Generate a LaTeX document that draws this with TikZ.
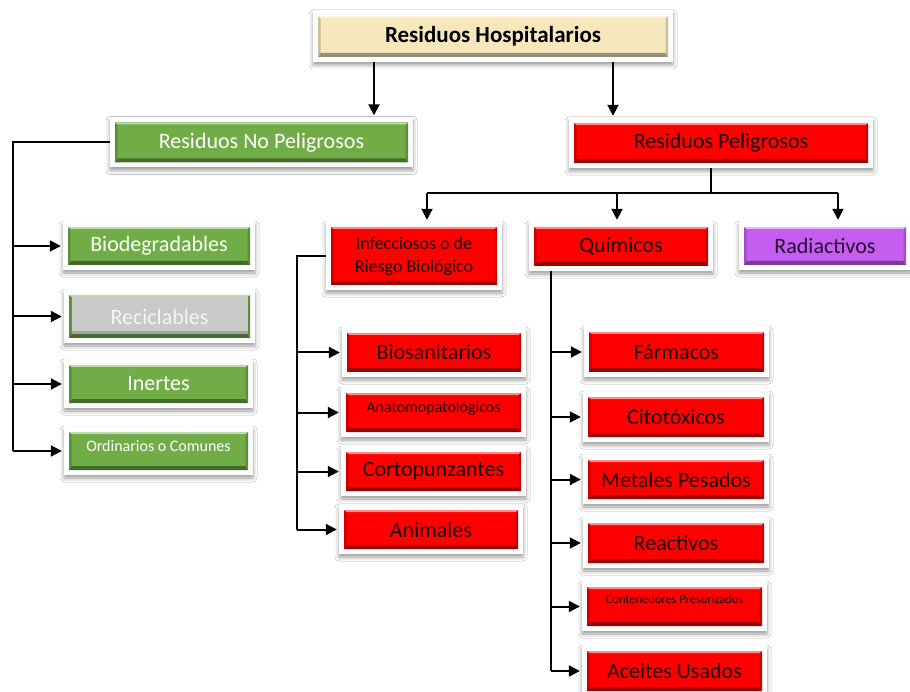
\documentclass[tikz,border=0pt]{standalone}
\usepackage{fontspec}
\setmainfont{Carlito}
\usetikzlibrary{arrows.meta,shadows.blur}

\definecolor{cgreen}{HTML}{70AD47}
\definecolor{cred}{HTML}{FF0000}
\definecolor{cpurple}{HTML}{C55EF0}
\definecolor{ccream}{HTML}{F6E8BC}
\definecolor{cgray}{HTML}{C9C9C9}
\definecolor{credtext}{HTML}{1A0000}
\definecolor{cpurptext}{HTML}{2A0A30}

% Bevelled face inside a white frame
\newcommand\bevelfill[1]{%
  \path (path picture bounding box.south west) ++(5pt,5pt) coordinate (q1)
        (path picture bounding box.south east) ++(-5pt,5pt) coordinate (q2)
        (path picture bounding box.north east) ++(-5pt,-5pt) coordinate (q3)
        (path picture bounding box.north west) ++(5pt,-5pt) coordinate (q4);
  \path (q1) ++(2.5pt,4pt) coordinate (r1)
        (q2) ++(-2.5pt,4pt) coordinate (r2)
        (q3) ++(-2.5pt,-2pt) coordinate (r3)
        (q4) ++(2.5pt,-2pt) coordinate (r4);
  \fill[#1] (q1) rectangle (q3);
  \fill[#1!62!black] (q1) -- (q2) -- (r2) -- (r1) -- cycle;
  \fill[#1!82!black] (q2) -- (q3) -- (r3) -- (r2) -- cycle;
  \fill[#1!82!black] (q1) -- (q4) -- (r4) -- (r1) -- cycle;
  \fill[#1!45!white] (q4) -- (q3) -- (r3) -- (r4) -- cycle;
}

\tikzset{
  shadowed/.style={blur shadow={shadow xshift=0pt, shadow yshift=-3pt,
      shadow blur radius=4pt, shadow opacity=40}},
  box/.style={rectangle, fill=white, inner sep=0pt, align=center, shadowed,
    path picture={\bevelfill{#1}}},
  greenbox/.style={box=cgreen, text=white},
  redbox/.style={box=cred, text=credtext},
  recbox/.style={rectangle, fill=white, inner sep=0pt, text=white!92!gray, shadowed,
    path picture={\bevelfill{cgreen}%
      \fill[cgray] (r1) rectangle (r3);
      \fill[cgray!80!black] (r1) rectangle ([yshift=3pt]r2);}},
  big/.style={font=\fontsize{22}{26}\selectfont},
  mid/.style={font=\fontsize{18}{23}\selectfont},
  sml/.style={font=\fontsize{16}{19}\selectfont},
  tiny/.style={font=\fontsize{12.4}{15}\selectfont},
  conn/.style={line width=2pt, black},
  arr/.style={conn, -{Triangle[length=11pt,width=11pt]}, shorten >=2pt},
}

\begin{document}
\begin{tikzpicture}[x=1pt,y=-1pt]
\fill[white] (0,0) rectangle (910,692);
\useasboundingbox (0,0) rectangle (910,692);

% top level
\node[box=ccream, text=black, font=\fontsize{23}{27}\selectfont\bfseries,
  minimum width=360pt, minimum height=51pt] (top) at (493,36.5) {Residuos Hospitalarios};

\node[greenbox, big, minimum width=303pt, minimum height=50pt] (nop) at (261.5,142.5) {Residuos No Peligrosos};
\node[redbox, big, minimum width=304pt, minimum height=50pt] (pel) at (721,143) {Residuos Peligrosos};

% non-hazardous branch
\node[greenbox, big, minimum width=192pt, minimum height=48pt] (bio) at (159,246) {Biodegradables};
\node[recbox, big, minimum width=191pt, minimum height=53pt] (rec) at (159.5,316.5) {Reciclables};
\node[greenbox, big, minimum width=189pt, minimum height=48pt] (ine) at (158.5,384) {Inertes};
\node[greenbox, sml, text depth=11pt, minimum width=189pt, minimum height=48pt] (ord) at (158.5,451) {Ordinarios o Comunes};

% hazardous branch, second level
\node[redbox, mid, minimum width=176pt, minimum height=68pt] (inf) at (414,256) {Infecciosos o de\\Riesgo Biológico};
\node[redbox, big, minimum width=184pt, minimum height=49pt] (qui) at (621,246.5) {Químicos};
\node[box=cpurple, text=cpurptext, big, minimum width=172pt, minimum height=48pt] (rad) at (825,246) {Radiactivos};

% infectious waste
\node[redbox, big, minimum width=184pt, minimum height=49pt] (bios) at (434,352.5) {Biosanitarios};
\node[redbox, sml, text depth=11pt, minimum width=185pt, minimum height=49pt] (ana) at (433.5,412.5) {Anatomopatológicos};
\node[redbox, big, minimum width=185pt, minimum height=49pt] (cor) at (433.5,471.5) {Cortopunzantes};
\node[redbox, big, minimum width=184pt, minimum height=49pt] (ani) at (431,529.5) {Animales};

% chemical waste
\node[redbox, big, minimum width=185pt, minimum height=50pt] (far) at (676.5,352) {Fármacos};
\node[redbox, big, minimum width=186pt, minimum height=50pt] (cit) at (676,417) {Citotóxicos};
\node[redbox, big, minimum width=186pt, minimum height=49pt] (met) at (676,479.5) {Metales Pesados};
\node[redbox, big, minimum width=186pt, minimum height=50pt] (rea) at (676,543) {Reactivos};
\node[redbox, tiny, text depth=14pt, minimum width=185pt, minimum height=49pt] (con) at (674.5,606.5) {Contenedores Presurizados};
\node[redbox, big, minimum width=185pt, minimum height=50pt] (ace) at (674.5,671) {Aceites Usados};

% trunk positions
\coordinate (ta) at (374,0);
\coordinate (tb) at (613,0);
\coordinate (tl) at (13,0);
\coordinate (pj) at (711,193);
\coordinate (pa) at (427,193);
\coordinate (pb) at (617,193);
\coordinate (pc) at (838,193);
\coordinate (il) at (297,0);
\coordinate (ql) at (551,0);

% connectors
\draw[arr] (top.south -| ta) -- (nop.north -| ta);
\draw[arr] (top.south -| tb) -- (pel.north -| tb);

\draw[conn] (nop.west) -- (nop.west -| tl) -- (tl |- ord.west);
\draw[arr] (tl |- bio.west) -- (bio.west);
\draw[arr] (tl |- rec.west) -- (rec.west);
\draw[arr] (tl |- ine.west) -- (ine.west);
\draw[arr] (tl |- ord.west) -- (ord.west);

\draw[conn] (pel.south -| pj) -- (pj);
\draw[conn] (pa) -- (pc);
\draw[arr] (pa) -- (inf.north -| pa);
\draw[arr] (pb) -- (qui.north -| pb);
\draw[arr] (pc) -- (rad.north -| pc);

\draw[conn] (inf.west) -- (inf.west -| il) -- (il |- ani.west);
\draw[arr] (il |- bios.west) -- (bios.west);
\draw[arr] (il |- ana.west) -- (ana.west);
\draw[arr] (il |- cor.west) -- (cor.west);
\draw[arr] (il |- ani.west) -- (ani.west);

\draw[conn] (qui.south -| ql) -- (ql |- ace.west);
\draw[arr] (ql |- far.west) -- (far.west);
\draw[arr] (ql |- cit.west) -- (cit.west);
\draw[arr] (ql |- met.west) -- (met.west);
\draw[arr] (ql |- rea.west) -- (rea.west);
\draw[arr] (ql |- con.west) -- (con.west);
\draw[arr] (ql |- ace.west) -- (ace.west);
\end{tikzpicture}
\end{document}
